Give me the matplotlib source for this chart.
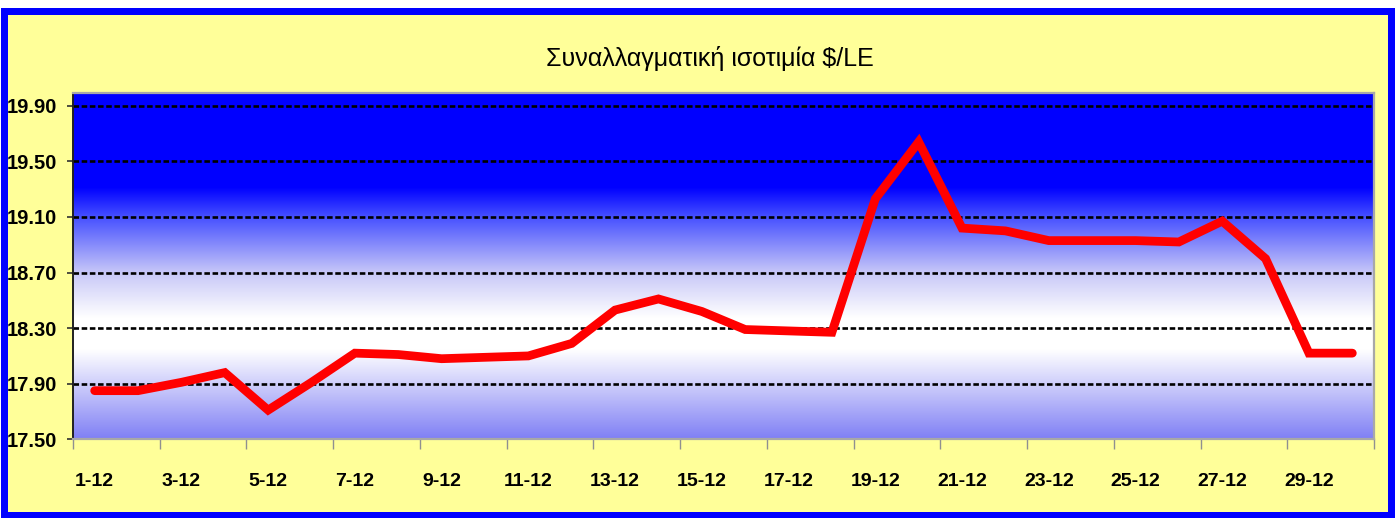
import numpy as np
import matplotlib
matplotlib.use("Agg")
import matplotlib.pyplot as plt
from matplotlib.patches import Rectangle

# ---- data ----
dates = ["1-12", "2-12", "3-12", "4-12", "5-12", "6-12", "7-12", "8-12", "9-12", "10-12",
         "11-12", "12-12", "13-12", "14-12", "15-12", "16-12", "17-12", "18-12", "19-12", "20-12",
         "21-12", "22-12", "23-12", "24-12", "25-12", "26-12", "27-12", "28-12", "29-12", "30-12"]
rates = [17.85, 17.85, 17.91, 17.98, 17.71, 17.91, 18.12, 18.11, 18.08, 18.09,
         18.10, 18.19, 18.43, 18.51, 18.42, 18.29, 18.28, 18.27, 19.23, 19.64,
         19.02, 19.00, 18.93, 18.93, 18.93, 18.92, 19.07, 18.80, 18.12, 18.12]
yticks = [17.50, 17.90, 18.30, 18.70, 19.10, 19.50, 19.90]
title = "Συναλλαγματική ισοτιμία $/LE"

FONT = ["Liberation Sans Narrow", "Liberation Sans", "DejaVu Sans"]
plt.rcParams["font.family"] = FONT

W, H = 1397, 518
fig = plt.figure(figsize=(W / 100, H / 100), dpi=100)
fig.patch.set_facecolor("white")

# outer chart frame (yellow with blue border)
bw = 7
x0, x1, yt, yb = 3.5, 1391, 11, 515
frame = Rectangle((x0 / W, (H - yb) / H), (x1 - x0) / W, (yb - yt) / H,
                  transform=fig.transFigure, facecolor="#FFFF99",
                  edgecolor="#0000FF", linewidth=bw * 72 / 100, zorder=-10)
fig.add_artist(frame)

# axes
left, right, top, bottom = 73, 1374, 93.3, 439.3
ax = fig.add_axes([left / W, (H - bottom) / H, (right - left) / W, (bottom - top) / H])
ax.set_zorder(1)
ax.set_facecolor("white")

# gradient background
stops = [0.0, 0.272, 0.358, 0.52, 0.65, 0.743, 1.0]
cols = np.array([[0, 0, 255], [0, 0, 255], [70, 80, 255], [200, 200, 248],
                 [255, 255, 255], [255, 255, 255], [128, 128, 245]]) / 255.0
n = 400
f = np.linspace(0, 1, n)
grad = np.stack([np.interp(f, stops, cols[:, k]) for k in range(3)], axis=-1)[:, None, :]
ax.imshow(grad, extent=[0, 1, 0, 1], transform=ax.transAxes, aspect="auto",
          zorder=0, interpolation="bilinear")

x = np.arange(len(dates))
ax.set_xlim(-0.5, len(dates) - 0.5)
ax.set_ylim(17.5, 19.99)

# gridlines
for yv in yticks[1:]:
    ax.axhline(yv, color="black", linewidth=1.9, linestyle=(0, (2.1, 1.0)), zorder=1)

ax.plot(x, rates, color="#FF0000", linewidth=6.3, solid_capstyle="round",
        solid_joinstyle="miter", zorder=3)

# y axis
ax.set_yticks(yticks)
ax.set_yticklabels([f"{v:.2f}" for v in yticks], fontsize=14.5, fontweight="bold",
                   family=FONT)
ax.tick_params(axis="y", direction="out", length=4.5, width=1.2, color="#303030", pad=7)

# x axis: boundary ticks every 2 categories, labels at even categories
ax.set_xticks(np.arange(-0.5, len(dates), 2))
ax.set_xticklabels([])
ax.tick_params(axis="x", which="major", direction="out", length=7, width=1, color="#909090")
ax.set_xticks(x[::2], minor=True)
ax.set_xticklabels(dates[::2], minor=True, fontsize=14, fontweight="bold", family=FONT)
ax.tick_params(axis="x", which="minor", length=0, pad=24)

ax.spines["left"].set_color("#202020")
ax.spines["left"].set_linewidth(1.4)
for s in ["bottom", "right", "top"]:
    ax.spines[s].set_color("#A8A8A8")
    ax.spines[s].set_linewidth(1.6)

fig.text(710 / W, (H - 66) / H, title, ha="center", va="baseline",
         fontsize=18, family=FONT, color="black")

fig.savefig("out.png", dpi=100, facecolor=fig.get_facecolor())
